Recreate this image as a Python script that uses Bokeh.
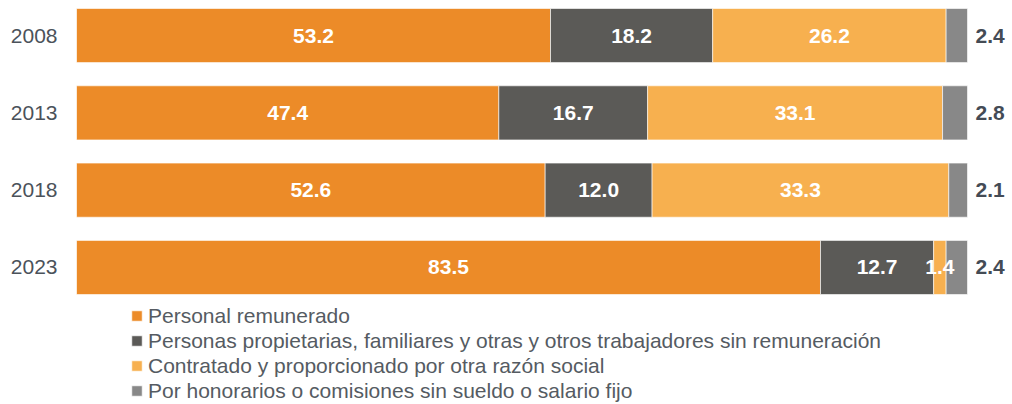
from bokeh.plotting import figure
from bokeh.models import ColumnDataSource, Range1d, Legend, LegendItem, FixedTicker
from bokeh.core.properties import value
from bokeh.embed import file_html
from bokeh.resources import INLINE

years = ["2008", "2013", "2018", "2023"]
remunerado = [53.2, 47.4, 52.6, 83.5]
propietarios = [18.2, 16.7, 12.0, 12.7]
contratado = [26.2, 33.1, 33.3, 1.4]
honorarios = [2.4, 2.8, 2.1, 2.4]

series_keys = ["remunerado", "propietarios", "contratado", "honorarios"]
series_names = [
    "Personal remunerado",
    "Personas propietarias, familiares y otras y otros trabajadores sin remuneración",
    "Contratado y proporcionado por otra razón social",
    "Por honorarios o comisiones sin sueldo o salario fijo",
]
colors = ["#EC8B28", "#5B5A57", "#F7B04F", "#888888"]

FONT = "Liberation Sans"

# row positions: first year at top
ypos = [len(years) - 1 - i for i in range(len(years))]

source = ColumnDataSource(dict(
    y=ypos, year=years, remunerado=remunerado, propietarios=propietarios,
    contratado=contratado, honorarios=honorarios,
))

p = figure(
    width=1012, height=404,
    y_range=Range1d(-1.773, 3.4535),
    x_range=Range1d(0, 105.05),
    output_backend="svg", toolbar_location=None,
    min_border_left=76, min_border_right=0, min_border_top=0, min_border_bottom=0,
)

renderers = p.hbar_stack(series_keys, y="y", height=0.7, color=colors, source=source,
                         line_color="white", line_width=1, line_alpha=0.6)

# labels
series = [remunerado, propietarios, contratado, honorarios]
in_x, in_y, in_t = [], [], []
out_x, out_y, out_t = [], [], []
for i, yv in enumerate(ypos):
    vals = [s[i] for s in series]
    left = 0.0
    for v in vals[:-1]:
        in_x.append(left + v / 2)
        in_y.append(yv)
        in_t.append(f"{v:.1f}")
        left += v
    out_x.append(left + vals[-1])
    out_y.append(yv)
    out_t.append(f"{vals[-1]:.1f}")

p.text(x="x", y="y", text="t", source=ColumnDataSource(dict(x=in_x, y=in_y, t=in_t)),
       text_align="center", text_baseline="middle", text_color="white",
       text_font=value(FONT), text_font_style="bold", text_font_size="21px")
p.text(x="x", y="y", text="t", source=ColumnDataSource(dict(x=out_x, y=out_y, t=out_t)),
       x_offset=8, text_align="left", text_baseline="middle", text_color="#444B55",
       text_font=value(FONT), text_font_style="bold", text_font_size="21px")

legend = Legend(
    items=[LegendItem(label=n, renderers=[r]) for n, r in zip(series_names, renderers)],
    location=(54, 1),
    orientation="vertical",
    glyph_width=13, glyph_height=13,
    label_standoff=5, label_height=25, spacing=0,
    label_text_font=FONT, label_text_font_size="21px", label_text_color="#555B62",
    padding=0, margin=0, border_line_color=None, background_fill_alpha=0,
)
p.add_layout(legend)

p.xaxis.visible = False
p.xgrid.visible = False
p.ygrid.visible = False
p.outline_line_color = None
p.yaxis.ticker = FixedTicker(ticks=ypos)
p.yaxis.major_label_overrides = {yv: yr for yv, yr in zip(ypos, years)}
p.yaxis.axis_line_color = None
p.yaxis.major_tick_line_color = None
p.yaxis.minor_tick_line_color = None
p.yaxis.major_tick_out = 0
p.yaxis.major_tick_in = 0
p.yaxis.major_label_standoff = 19
p.yaxis.major_label_text_font = FONT
p.yaxis.major_label_text_font_size = "21px"
p.yaxis.major_label_text_color = "#4B525A"

open("out.html", "w").write(file_html(p, INLINE))
